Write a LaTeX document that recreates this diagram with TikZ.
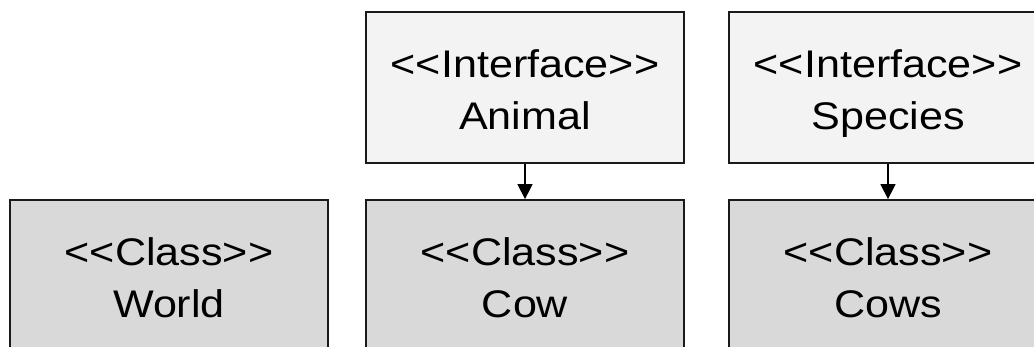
\documentclass[tikz,border=0pt]{standalone}
\usepackage{fontspec}
\setmainfont[FakeStretch=1.12,Ligatures=NoCommon]{Liberation Sans}
\usetikzlibrary{arrows.meta}
\definecolor{ifacefill}{HTML}{F3F3F3}
\definecolor{classfill}{HTML}{D9D9D9}
\definecolor{edge}{HTML}{1A1A1A}
% fixed line strut so every two-line label sits at the same baseline
\newcommand{\umlstrut}{\rule[-8pt]{0pt}{48pt}}
\newcommand{\umltext}[2]{{<}{<}#1{>}{>}\umlstrut\\#2\umlstrut}
\begin{document}
\begin{tikzpicture}[x=1pt,y=-1pt,
  umlbox/.style={draw=edge,line width=1.8pt,minimum width=318pt,minimum height=151pt,
    inner sep=0pt,align=center,font=\fontsize{38.5}{52}\selectfont},
  iface/.style={umlbox,fill=ifacefill},
  klass/.style={umlbox,fill=classfill},
  realizes/.style={draw=black,line width=1.5pt,-{Triangle[width=15pt,length=15pt]}}]
  \useasboundingbox (0,0) rectangle (1034,347);
  \clip (0,0) rectangle (1034,347);
  % interfaces
  \node[iface] (animal)  at (525,87.5) {\umltext{Interface}{Animal}};
  \node[iface] (species) at (888,87.5) {\umltext{Interface}{Species}};
  % classes
  \node[klass] (world) at (169,275.5) {\umltext{Class}{World}};
  \node[klass] (cow)   at (525,275.5) {\umltext{Class}{Cow}};
  \node[klass] (cows)  at (888,275.5) {\umltext{Class}{Cows}};
  % implementation links
  \draw[realizes] (animal.south) -- (cow.north);
  \draw[realizes] (species.south) -- (cows.north);
\end{tikzpicture}
\end{document}
